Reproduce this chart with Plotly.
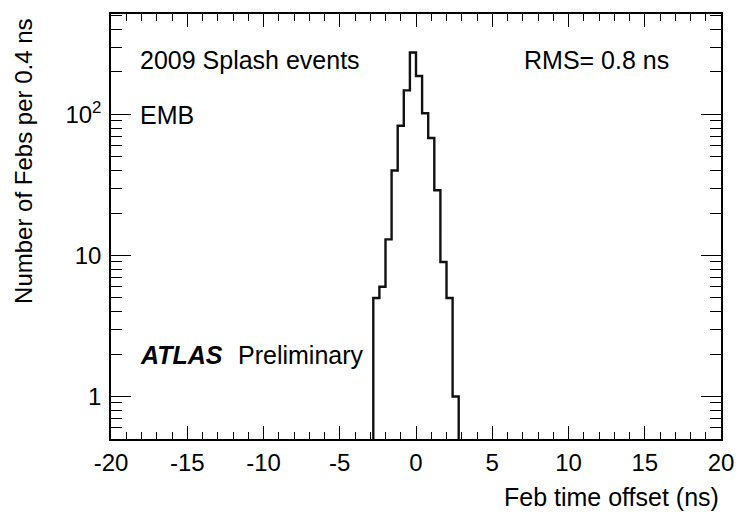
import numpy as np
import plotly.graph_objects as go

# Histogram data (bin width 0.4 ns)
bin_edges = [-2.8, -2.4, -2.0, -1.6, -1.2, -0.8, -0.4, 0.0, 0.4, 0.8, 1.2, 1.6, 2.0, 2.4, 2.8]
counts = [5, 6, 13, 40, 83, 148, 275, 187, 102, 68, 29, 9, 5, 1]

x_ticks = [-20, -15, -10, -5, 0, 5, 10, 15, 20]
x_ticktext = ["-20", "-15", "-10", "-5", "0", "5", "10", "15", "20"]
y_tickvals = [1, 10, 100]
y_ticktext = ["1", "10", "10<sup>2</sup>"]

FONT = "Liberation Sans, Arial, Helvetica, sans-serif"
FS = 25

tiny = 1e-3
xs = [bin_edges[0]] + list(bin_edges)
ys = [tiny] + list(counts) + [tiny]

fig = go.Figure()
fig.add_trace(go.Scatter(x=xs, y=ys, mode="lines", line=dict(color="#111111", width=2.4, shape="hv"),
                         hoverinfo="skip", showlegend=False))

y_minor = [m * 10 ** d for d in range(-1, 3) for m in range(2, 10)]
x_minor = list(range(-20, 21))

fig.update_layout(
    width=746, height=516,
    margin=dict(l=111, r=15, t=12, b=77),
    paper_bgcolor="white", plot_bgcolor="white",
    font=dict(family=FONT, size=FS, color="black"),
    xaxis=dict(range=[-20, 20], tickmode="array", tickvals=x_ticks, ticktext=x_ticktext,
               ticks="inside", ticklen=13, tickwidth=1, tickcolor="black",
               showline=True, linecolor="black", linewidth=1.5, mirror="ticks",
               showgrid=False, zeroline=False,
               minor=dict(tickmode="array", tickvals=x_minor, ticks="inside", ticklen=7, tickcolor="black", tickwidth=1),
               tickfont=dict(size=24), ticklabelstandoff=1),
    yaxis=dict(type="log", range=[np.log10(0.5), np.log10(515)], tickmode="array",
               tickvals=y_tickvals, ticktext=y_ticktext,
               ticks="inside", ticklen=20, tickwidth=1, tickcolor="black",
               showline=True, linecolor="black", linewidth=1.5, mirror="ticks",
               showgrid=False, zeroline=False,
               minor=dict(tickmode="array", tickvals=y_minor, ticks="inside", ticklen=11, tickcolor="black", tickwidth=1),
               tickfont=dict(size=24), ticklabelstandoff=3),
)

ann = [
    dict(text="2009 Splash events", x=138, y=58),
    dict(text="RMS= 0.8 ns", x=529, y=58),
    dict(text="EMB", x=138, y=113),
    dict(text="<b><i>ATLAS</i></b>", x=138, y=355),
    dict(text="Preliminary", x=238, y=355),
]
for a in ann:
    fig.add_annotation(text=a["text"], xref="paper", yref="paper",
                       x=(a["x"] - 111) / 620, y=1 - (a["y"] - 12) / 427,
                       xanchor="left", yanchor="middle", showarrow=False,
                       font=dict(family=FONT, size=FS, color="black"))

fig.add_annotation(text="Feb time offset (ns)", xref="paper", yref="paper",
                   x=1, y=1 - (497 - 12) / 427, xanchor="right", yanchor="middle",
                   showarrow=False, font=dict(family=FONT, size=FS, color="black"))
fig.add_annotation(text="Number of Febs per 0.4 ns", xref="paper", yref="paper",
                   x=(22 - 111) / 620, y=1 - (15 - 12) / 427, xanchor="center", yanchor="top",
                   textangle=-90, showarrow=False, font=dict(family=FONT, size=24, color="black"))

fig.write_html("out.html")
